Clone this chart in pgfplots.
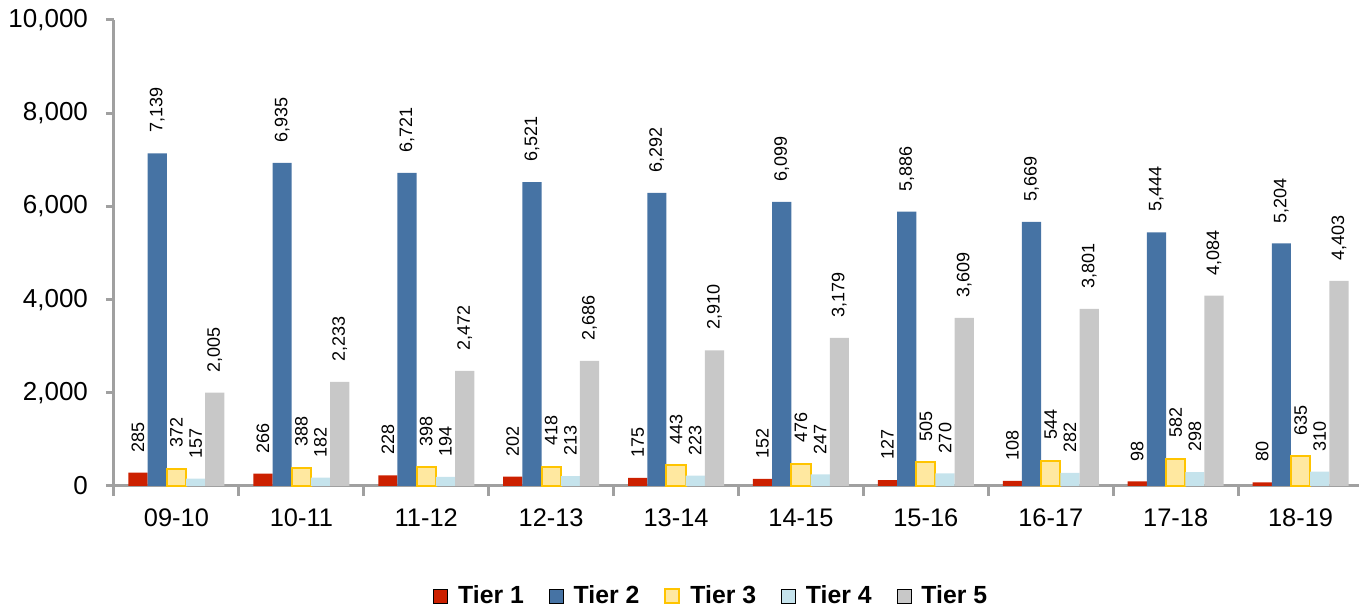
\documentclass[border=0pt]{standalone}
\usepackage{pgfplots}
\pgfplotsset{compat=1.18}
\usepackage{fontspec}
\setmainfont{Liberation Sans}
\definecolor{t1}{HTML}{CC2000}
\definecolor{t2}{HTML}{4673A4}
\definecolor{t3}{HTML}{FFE8A0}
\definecolor{t3b}{HTML}{FFC400}
\definecolor{t4}{HTML}{C5E3EC}
\definecolor{t5}{HTML}{C8C8C8}
\definecolor{axgray}{HTML}{A0A0A0}
\begin{document}
\begin{tikzpicture}
\path[use as bounding box] (-57pt,-61pt) rectangle (622.5pt,243pt);
\begin{axis}[
  at={(0pt,0pt)}, anchor=south west, scale only axis,
  width=624.5pt, height=233pt,
  xmin=-0.5, xmax=9.5, ymin=0, ymax=10000,
  ybar=0pt, bar width=9.6pt,
  clip=false,
  axis x line*=bottom, axis y line*=left,
  axis line style={draw=axgray, line width=1.5pt, -},
  xtick={0,...,9},
  xticklabels={09-10,10-11,11-12,12-13,13-14,14-15,15-16,16-17,17-18,18-19},
  minor xtick={-0.5,0.5,...,9.5},
  ytick={0,2000,...,10000},
  tick align=outside,
  major tick length=4pt, minor tick length=5pt,
  major x tick style={draw=none},
  minor x tick style={draw=axgray, line width=1.5pt},
  major y tick style={draw=axgray, line width=1.5pt},
  /pgf/number format/.cd, 1000 sep={,}, assume math mode=true, /pgfplots/.cd,
  scaled y ticks=false,
  yticklabel style={font=\fontsize{13}{15}\selectfont, xshift=-5.5pt},
  xticklabel style={font=\fontsize{12.7}{15}\selectfont, yshift=-4pt},
  nodes near coords,
  every node near coord/.append style={font=\fontsize{9}{10}\selectfont, rotate=90, anchor=west, inner xsep=10pt, inner ysep=0pt},
  legend columns=5,
  legend style={at={(axis description cs:0.2554,-0.236)}, anchor=west, draw=none, fill=none, inner sep=0pt,
    font=\bfseries\fontsize{12.4}{14}\selectfont,
    /tikz/every odd column/.append style={column sep=3pt},
    /tikz/every even column/.append style={column sep=10.5pt}},
  legend image code/.code={\draw[#1] (0pt,-3.5pt) rectangle (7pt,3.5pt);},
]
\addplot[fill=t1, draw=none] coordinates {(0,285) (1,266) (2,228) (3,202) (4,175) (5,152) (6,127) (7,108) (8,98) (9,80)};
\addplot[fill=t2, draw=none] coordinates {(0,7139) (1,6935) (2,6721) (3,6521) (4,6292) (5,6099) (6,5886) (7,5669) (8,5444) (9,5204)};
\addplot[fill=t3, draw=t3b, line width=1pt] coordinates {(0,372) (1,388) (2,398) (3,418) (4,443) (5,476) (6,505) (7,544) (8,582) (9,635)};
\addplot[fill=t4, draw=none] coordinates {(0,157) (1,182) (2,194) (3,213) (4,223) (5,247) (6,270) (7,282) (8,298) (9,310)};
\addplot[fill=t5, draw=none] coordinates {(0,2005) (1,2233) (2,2472) (3,2686) (4,2910) (5,3179) (6,3609) (7,3801) (8,4084) (9,4403)};
\legend{Tier 1,Tier 2,Tier 3,Tier 4,Tier 5}
\end{axis}
\end{tikzpicture}
\end{document}
